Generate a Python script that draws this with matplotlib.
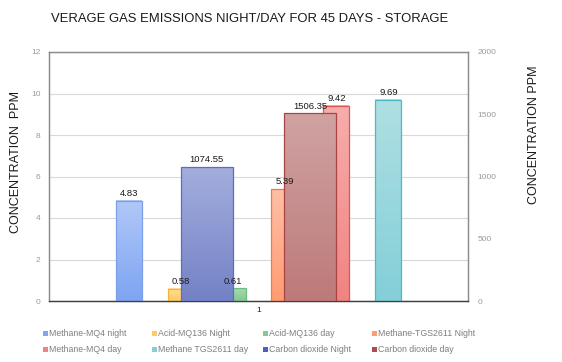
import numpy as np
import matplotlib
matplotlib.use('Agg')
import matplotlib.pyplot as plt
from matplotlib.patches import Rectangle

plt.rcParams['font.family'] = ['Liberation Sans', 'DejaVu Sans']

# data
category = '1'
primary_names = ['Methane-MQ4 night', 'Acid-MQ136 Night', 'Acid-MQ136 day',
                 'Methane-TGS2611 Night', 'Methane-MQ4 day', 'Methane TGS2611 day']
primary_values = [4.83, 0.58, 0.61, 5.39, 9.42, 9.69]
secondary_names = ['Carbon dioxide Night', 'Carbon dioxide day']
secondary_values = [1074.55, 1506.35]

title = 'VERAGE GAS EMISSIONS NIGHT/DAY FOR 45 DAYS - STORAGE'
left_label = 'CONCENTRATION  PPM'
right_label = 'CONCENTRATION PPM'

# (top colour, bottom colour, edge colour)
primary_colors = [('#afc8f7', '#7fa4f2', '#7b9fe8'),
                  ('#ffdd99', '#ffc966', '#f2b533'),
                  ('#a6d9b0', '#84c994', '#6dbb80'),
                  ('#ffbfa6', '#ff9c73', '#f27c3f'),
                  ('#f6aeac', '#f08482', '#e05553'),
                  ('#afdfe3', '#84cfd8', '#49bac8')]
secondary_colors = [('#a3addd', '#7482c6', '#5a6fc4'),
                    ('#d0a2a2', '#bd7a7a', '#a84444')]


def gradient_bar(ax, x0, width, height, colors, z):
    top, bottom, edge = colors
    c1 = np.array(matplotlib.colors.to_rgb(top))
    c2 = np.array(matplotlib.colors.to_rgb(bottom))
    t = np.linspace(0, 1, 64)[:, None]
    img = (c1 * (1 - t) + c2 * t)[:, None, :]
    ax.imshow(img, extent=[x0, x0 + width, 0, height], aspect='auto',
              origin='upper', zorder=z, interpolation='bilinear')
    ax.add_patch(Rectangle((x0, 0), width, height, fill=False,
                           edgecolor=edge, linewidth=0.9, zorder=z + 0.1))


fig = plt.figure(figsize=(5.62, 3.62), dpi=100)
ax = fig.add_axes([49 / 562, 1 - 301 / 362, 419 / 562, 249 / 362])
ax2 = ax.twinx()

step = 0.124
w = step / 2
center = 1.0
n = len(primary_values)
primary_x = []
for i, (v, c) in enumerate(zip(primary_values, primary_colors)):
    xc = center + (i - (n - 1) / 2) * step
    primary_x.append(xc)
    gradient_bar(ax, xc - w / 2, w, v, c, 3)

step2 = 2 * step
w2 = step2 / 2
m = len(secondary_values)
for j, (v, c) in enumerate(zip(secondary_values, secondary_colors)):
    xc = center + (j - (m - 1) / 2) * step2
    gradient_bar(ax2, xc - w2 / 2, w2, v, c, 3)
    ax2.annotate(f'{v:.2f}', (xc, v), xytext=(0, 2), textcoords='offset points',
                 ha='center', va='bottom', fontsize=6.8, color='#1a1a1a', zorder=10)

# primary labels go on the top axes so they sit over the CO2 bars
for xc, v in zip(primary_x, primary_values):
    ax2.annotate(f'{v:.2f}', (xc, v), xycoords=ax.transData, xytext=(0, 2),
                 textcoords='offset points', ha='center', va='bottom',
                 fontsize=6.8, color='#1a1a1a', zorder=10)

ax.set_xlim(0.5, 1.5)
ax.set_ylim(0, 12)
ax.set_yticks(np.arange(0, 13, 2))
ax2.set_ylim(0, 2000)
ax2.set_yticks(np.arange(0, 2001, 500))
ax.set_xticks([center])
ax.set_xticklabels([category])

ax.yaxis.grid(True, color='#d9d9d9', linewidth=0.8)
ax.set_axisbelow(True)

for a in (ax, ax2):
    for s in ('left', 'right', 'top'):
        a.spines[s].set_color('#8c8c8c')
        a.spines[s].set_linewidth(0.9)
    a.spines['bottom'].set_color('#404040')
    a.spines['bottom'].set_linewidth(0.9)
    a.tick_params(length=0, labelsize=6, labelcolor='#9a9a9a')
ax.tick_params(axis='y', pad=6)
ax2.tick_params(axis='y', pad=7)
ax.tick_params(axis='x', pad=4, labelcolor='#1a1a1a')

ax.set_ylabel(left_label, fontsize=9.0, color='#1a1a1a')
ax.yaxis.set_label_coords(-0.064, 0.56)
ax2.set_ylabel(right_label, fontsize=9.0, color='#1a1a1a')
ax2.yaxis.set_label_coords(1.143, 0.667)

fig.text(250 / 562, 1 - 19 / 362, title, ha='center', va='center',
         fontsize=9.4, color='#1a1a1a')

# legend laid out like the original: 4 columns, row by row
legend_names = primary_names + secondary_names
legend_colors = [c[1] for c in primary_colors] + ['#4a63c0', '#b04c4c']
col_x = [43, 152, 263, 372]
row_y = [333, 349]
for k, (name, col) in enumerate(zip(legend_names, legend_colors)):
    r, cidx = divmod(k, 4)
    x = col_x[cidx]
    y = row_y[r]
    fig.patches.append(Rectangle((x / 562, 1 - (y + 2.5) / 362), 5 / 562, 5 / 362,
                                 transform=fig.transFigure, facecolor=col,
                                 edgecolor='none'))
    fig.text((x + 6) / 562, 1 - y / 362, name, ha='left', va='center',
             fontsize=6.35, color='#7f7f7f')

fig.savefig('out.png', dpi=100)
